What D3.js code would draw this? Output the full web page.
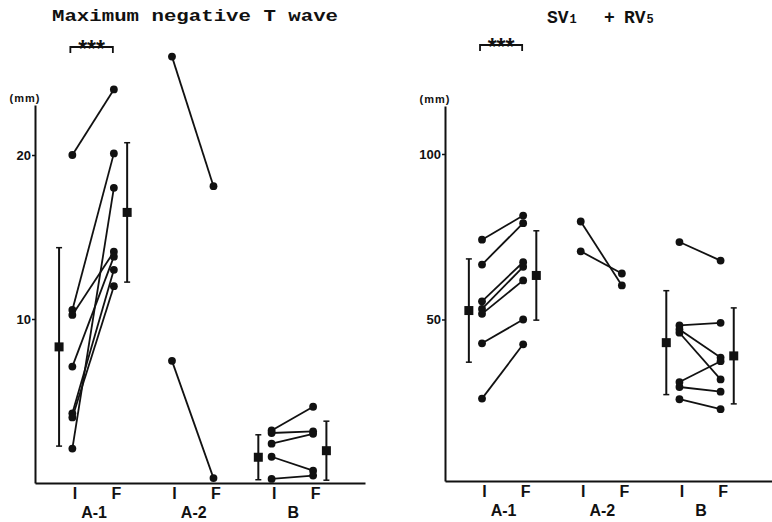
<!DOCTYPE html>
<html>
<head>
<meta charset="utf-8">
<script src="https://cdn.jsdelivr.net/npm/d3@7"></script>
<style>
  body { margin: 0; background: #fff; }
  svg { display: block; }
  text { fill: #111; }
</style>
</head>
<body>
<svg id="chart"></svg>
<script>
const width = 772;
const height = 522;

// groups and sub-labels (I = initial, F = final)
const groups = ["A-1", "A-2", "B"];
const phases = ["I", "F"];

// Maximum negative T wave (mm), paired I -> F per patient
const tA1I = [20.0, 10.55, 10.25, 7.1, 4.25, 4.0, 2.1];
const tA1F = [24.0, 20.1, 14.1, 13.8, 13.0, 12.0, 18.0];
const tA2I = [26.0, 7.45];
const tA2F = [18.1, 0.3];
const tBI = [3.2, 3.05, 2.4, 1.6, 0.25];
const tBF = [4.65, 3.15, 3.0, 0.75, 0.45];
const tMeanA1 = [8.3, 16.5];
const tSdA1 = [6.05, 4.25];
const tMeanB = [1.57, 1.97];
const tSdB = [1.37, 1.8];

// SV1 + RV5 (mm)
const sA1I = [74.1, 66.6, 55.5, 53.2, 51.7, 42.8, 26.1];
const sA1F = [81.4, 79.1, 67.3, 65.9, 61.8, 50.0, 42.5];
const sA2I = [79.6, 70.6];
const sA2F = [60.3, 63.9];
const sBI = [73.4, 48.2, 47.0, 46.0, 31.1, 29.6, 25.9];
const sBF = [67.8, 49.0, 38.5, 31.9, 37.4, 28.2, 22.9];
const sMeanA1 = [52.7, 63.3];
const sSdA1 = [15.6, 13.5];
const sMeanB = [43.0, 39.0];
const sSdB = [15.7, 14.5];

const svg = d3.select("#chart")
    .attr("width", width)
    .attr("height", height);

// slot positions along x: A-1 I/F, A-2 I/F, B I/F
const slotPos = [0, 1, 2.4, 3.4, 4.8, 5.8];
const meanOffset = 0.32;

function drawPanel(cfg) {
    const g = svg.append("g");
    const x = d3.scaleLinear().domain([-0.9, 7.05]).range(cfg.xRange);
    const y = d3.scaleLinear().domain(cfg.yDomain).range(cfg.yRange);

    // y axis
    const yAxis = g.append("g")
        .attr("transform", `translate(${cfg.xRange[0]},0)`)
        .call(d3.axisLeft(y).tickValues(cfg.ticks).tickSize(3).tickSizeOuter(0).tickPadding(1));
    yAxis.select(".domain").attr("stroke", "#111").attr("stroke-width", 2);
    yAxis.selectAll(".tick line").attr("stroke", "#111").attr("stroke-width", 1.5);
    yAxis.selectAll(".tick text")
        .attr("font-family", "Liberation Sans, Arial, sans-serif")
        .attr("font-weight", "bold")
        .attr("font-size", 13)
        .attr("fill", "#111");

    // x axis baseline with I / F labels
    const xAxis = g.append("g")
        .attr("transform", `translate(0,${cfg.yRange[0]})`)
        .call(d3.axisBottom(x).tickValues(slotPos)
            .tickFormat((d, i) => phases[i % 2])
            .tickSize(0).tickSizeOuter(0).tickPadding(5));
    xAxis.select(".domain").attr("stroke", "#111").attr("stroke-width", 2);
    xAxis.selectAll(".tick text")
        .attr("font-family", "Liberation Sans, Arial, sans-serif")
        .attr("font-weight", "bold")
        .attr("font-size", 16)
        .attr("dx", 2)
        .attr("fill", "#111");

    // group labels
    g.selectAll(".grp")
        .data(groups)
        .join("text")
        .attr("class", "grp")
        .attr("x", (d, i) => x((slotPos[i * 2] + slotPos[i * 2 + 1]) / 2) + 1)
        .attr("y", cfg.yRange[0] + 35)
        .attr("text-anchor", "middle")
        .attr("font-family", "Liberation Sans, Arial, sans-serif")
        .attr("font-weight", "bold")
        .attr("font-size", 16)
        .text(d => d);

    // (mm) unit label
    g.append("text")
        .attr("x", cfg.xRange[0] - 10)
        .attr("y", cfg.yRange[1] - 3)
        .attr("text-anchor", "middle")
        .attr("font-family", "Liberation Sans, Arial, sans-serif")
        .attr("font-weight", "bold")
        .attr("font-size", 11)
        .attr("letter-spacing", 1)
        .text("(mm)");

    // paired lines and dots
    cfg.pairs.forEach((p, gi) => {
        const xi = x(slotPos[gi * 2]);
        const xf = x(slotPos[gi * 2 + 1]);
        const rows = p.I.map((v, k) => ({ i: v, f: p.F[k] }));
        g.selectAll(null)
            .data(rows)
            .join("line")
            .attr("x1", xi).attr("y1", d => y(d.i))
            .attr("x2", xf).attr("y2", d => y(d.f))
            .attr("stroke", "#111")
            .attr("stroke-width", 1.8);
        g.selectAll(null)
            .data(rows.flatMap(d => [[xi, d.i], [xf, d.f]]))
            .join("circle")
            .attr("cx", d => d[0])
            .attr("cy", d => y(d[1]))
            .attr("r", 3.9)
            .attr("fill", "#111");
    });

    // mean +- SD squares
    cfg.means.forEach(m => {
        const rows = m.mean.map((v, k) => ({
            x: x(slotPos[m.group * 2 + k] + (k === 0 ? -meanOffset : meanOffset)),
            mean: v,
            sd: m.sd[k]
        }));
        const mg = g.selectAll(null).data(rows).join("g");
        mg.append("line")
            .attr("x1", d => d.x).attr("x2", d => d.x)
            .attr("y1", d => y(Math.max(cfg.yDomain[0], d.mean - d.sd)))
            .attr("y2", d => y(d.mean + d.sd))
            .attr("stroke", "#111").attr("stroke-width", 2);
        [-1, 1].forEach(s => {
            mg.append("line")
                .attr("x1", d => d.x - 3).attr("x2", d => d.x + 3)
                .attr("y1", d => y(Math.max(cfg.yDomain[0], d.mean + s * d.sd)))
                .attr("y2", d => y(Math.max(cfg.yDomain[0], d.mean + s * d.sd)))
                .attr("stroke", "#111").attr("stroke-width", 1.5);
        });
        mg.append("rect")
            .attr("x", d => d.x - 4.5)
            .attr("y", d => y(d.mean) - 4.5)
            .attr("width", 9).attr("height", 9)
            .attr("fill", "#111");
    });

    // significance bracket over A-1
    const bx1 = x(slotPos[0]) - 2;
    const bx2 = x(slotPos[1]) - 1;
    const by = cfg.bracketY;
    g.append("path")
        .attr("d", `M${bx1},${by + 6}V${by}H${bx2}V${by + 6}`)
        .attr("fill", "none")
        .attr("stroke", "#111")
        .attr("stroke-width", 1.8);
    g.append("text")
        .attr("x", (bx1 + bx2) / 2)
        .attr("y", by + 10)
        .attr("text-anchor", "middle")
        .attr("font-family", "Liberation Sans, Arial, sans-serif")
        .attr("font-weight", "bold")
        .attr("font-size", 23)
        .text("***");
}

drawPanel({
    xRange: [35, 365],
    yRange: [483, 105],
    yDomain: [0, 23.05],
    ticks: [10, 20],
    bracketY: 47,
    pairs: [{ I: tA1I, F: tA1F }, { I: tA2I, F: tA2F }, { I: tBI, F: tBF }],
    means: [{ group: 0, mean: tMeanA1, sd: tSdA1 }, { group: 2, mean: tMeanB, sd: tSdB }]
});

drawPanel({
    xRange: [445, 772],
    yRange: [481, 106],
    yDomain: [1.2, 114.5],
    ticks: [50, 100],
    bracketY: 45,
    pairs: [{ I: sA1I, F: sA1F }, { I: sA2I, F: sA2F }, { I: sBI, F: sBF }],
    means: [{ group: 0, mean: sMeanA1, sd: sSdA1 }, { group: 2, mean: sMeanB, sd: sSdB }]
});

// titles
svg.append("text")
    .attr("x", 52)
    .attr("y", 21)
    .attr("font-family", "Liberation Mono, Courier New, monospace")
    .attr("font-weight", "bold")
    .attr("font-size", 17)
    .attr("textLength", 286)
    .attr("lengthAdjust", "spacingAndGlyphs")
    .text("Maximum negative T wave");

const t2 = svg.append("text")
    .attr("x", 547)
    .attr("y", 23)
    .attr("font-family", "Liberation Mono, Courier New, monospace")
    .attr("font-weight", "bold")
    .attr("font-size", 18);
t2.append("tspan").text("SV");
t2.append("tspan").attr("font-size", 12).attr("dx", 1).text("1");
t2.append("tspan").attr("x", 604).text("+");
t2.append("tspan").attr("x", 624).text("RV");
t2.append("tspan").attr("font-size", 12).attr("dx", 1).text("5");
</script>
</body>
</html>
